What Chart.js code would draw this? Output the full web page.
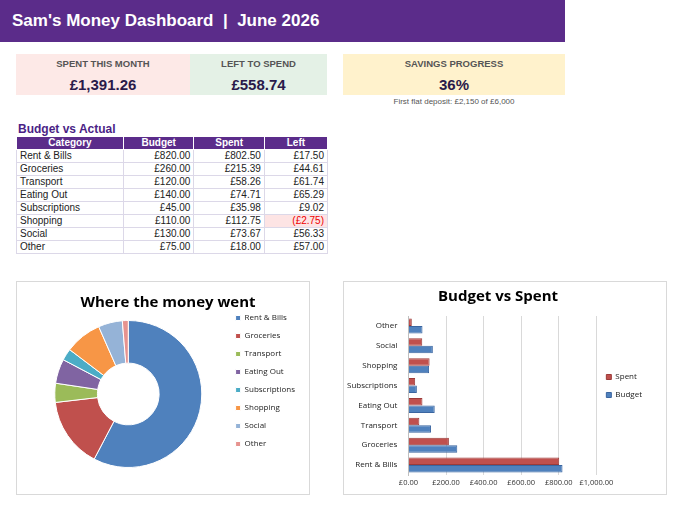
<!DOCTYPE html>
<html><head><meta charset="utf-8">
<script src="https://cdn.jsdelivr.net/npm/chart.js@4"></script>
<style>
body{margin:0;width:680px;height:507px;background:#fff;font-family:"Liberation Sans",Arial,sans-serif;position:relative;overflow:hidden}
.abs{position:absolute}
#hdr{left:0;top:0;width:565px;height:42px;background:#5b2c8a;color:#fff;font-weight:bold;font-size:17px;line-height:42px;padding-left:12px;box-sizing:border-box}
.card{top:54px;height:41px;text-align:center;color:#2a1a4a}
.card .t{font-size:9.5px;font-weight:bold;color:#555;margin-top:4px}
.card .v{font-size:15px;font-weight:bold;margin-top:7px}
table{border-collapse:collapse;font-size:10px;color:#222}
td,th{border:1px solid #dcd8e8;height:12px;padding:0 3px;line-height:12px}
th{background:#5b2c8a;color:#fff;font-weight:bold;border-color:#fff}
td.n{text-align:right}
.box{border:1px solid #d9d9d9;background:#fff}
</style></head><body>
<div id="hdr" class="abs">Sam's Money Dashboard &nbsp;|&nbsp; June 2026</div>
<div class="abs card" style="left:16px;width:174px;background:#fde9e7"><div class="t">SPENT THIS MONTH</div><div class="v">£1,391.26</div></div>
<div class="abs card" style="left:190px;width:137px;background:#e4f1e6"><div class="t">LEFT TO SPEND</div><div class="v">£558.74</div></div>
<div class="abs card" style="left:343px;width:222px;background:#fff2cc"><div class="t">SAVINGS PROGRESS</div><div class="v">36%</div></div>
<div class="abs" style="left:343px;width:222px;top:97px;text-align:center;font-size:8px;color:#555">First flat deposit: £2,150 of £6,000</div>
<div class="abs" style="left:18px;top:122px;font-size:12px;font-weight:bold;color:#4b1f86">Budget vs Actual</div>
<table class="abs" id="tbl" style="left:16px;top:136px;width:312px"></table>
<div class="abs box" style="left:16px;top:281px;width:292px;height:212px"><canvas id="c1"></canvas></div>
<div class="abs box" style="left:343px;top:281px;width:322px;height:212px"><canvas id="c2"></canvas></div>
<script>
const categories=["Rent & Bills","Groceries","Transport","Eating Out","Subscriptions","Shopping","Social","Other"];
const budget=[820,260,120,140,45,110,130,75];
const spent=[802.50,215.39,58.26,74.71,35.98,112.75,73.67,18.00];
const left=[17.50,44.61,61.74,65.29,9.02,-2.75,56.33,57.00];
const xTicks=[0,200,400,600,800,1000];
const sliceColors=["#4F81BD","#C0504D","#9BBB59","#8064A2","#4BACC6","#F79646","#95B3D7","#E6938F"];
const gbp=v=>(v<0?"(£":"£")+Math.abs(v).toLocaleString("en-GB",{minimumFractionDigits:2,maximumFractionDigits:2})+(v<0?")":"");
let h='<tr><th style="width:100px">Category</th><th>Budget</th><th>Spent</th><th>Left</th></tr>';
categories.forEach((c,i)=>{h+=`<tr><td>${c}</td><td class="n">${gbp(budget[i])}</td><td class="n">${gbp(spent[i])}</td><td class="n" style="${left[i]<0?'background:#fde4e4;color:#e00':''}">${gbp(left[i])}</td></tr>`});
document.getElementById('tbl').innerHTML=h;
const fam='"Open Sans","Liberation Sans",sans-serif';
Chart.defaults.font.family=fam;
new Chart(document.getElementById('c1'),{type:'doughnut',
data:{labels:categories,datasets:[{data:spent,backgroundColor:sliceColors,borderColor:'#fff',borderWidth:1}]},
options:{responsive:true,maintainAspectRatio:false,animation:false,cutout:'42%',
layout:{padding:{left:14,right:4,top:12,bottom:26}},
plugins:{title:{display:true,text:'Where the money went',font:{size:15,weight:'bold'},color:'#000',padding:{top:0,bottom:8}},
legend:{position:'right',labels:{boxWidth:5,boxHeight:5,font:{size:8},color:'#222',padding:10}},tooltip:{enabled:false}}}});
const rc=[...categories].reverse();
new Chart(document.getElementById('c2'),{type:'bar',
data:{labels:rc,datasets:[
{label:'Spent',data:[...spent].reverse(),backgroundColor:'#C0504D',borderColor:'#9c3b39',borderWidth:1},
{label:'Budget',data:[...budget].reverse(),backgroundColor:'#4F81BD',borderColor:'#3a65a0',borderWidth:1}]},
options:{indexAxis:'y',responsive:true,maintainAspectRatio:false,animation:false,
layout:{padding:{left:0,right:14,top:0,bottom:4}},
datasets:{bar:{categoryPercentage:0.75,barPercentage:1}},
scales:{x:{min:0,max:1000,afterBuildTicks:a=>{a.ticks=xTicks.map(v=>({value:v}))},
ticks:{autoSkip:false,callback:v=>'£'+v.toLocaleString('en-GB',{minimumFractionDigits:2}),font:{size:7.5},color:'#333',maxRotation:0},
grid:{color:'#d9d9d9',drawTicks:false},border:{display:false}},
y:{ticks:{font:{size:8},color:'#222'},grid:{display:false},border:{color:'#bfbfbf'}}},
plugins:{title:{display:true,text:'Budget vs Spent',font:{size:15,weight:'bold'},color:'#000',padding:{top:6,bottom:10}},
legend:{position:'right',labels:{boxWidth:5,boxHeight:5,font:{size:8},color:'#222',padding:10}},tooltip:{enabled:false}}}});
</script></body></html>
